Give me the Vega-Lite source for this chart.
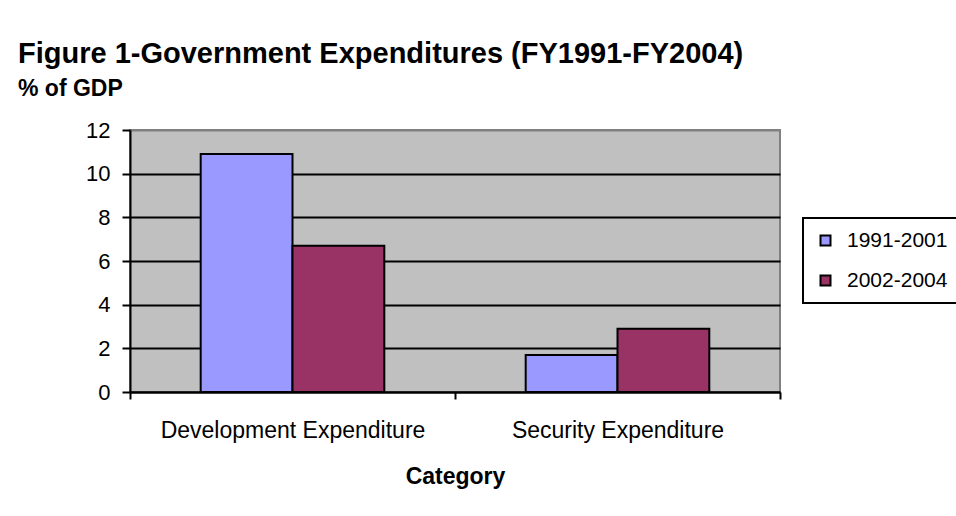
{
  "$schema": "https://vega.github.io/schema/vega-lite/v6.json",
  "autosize": {"type": "none"},
  "width": 650,
  "height": 262,
  "padding": {"left": 130, "top": 130, "right": 176, "bottom": 124},
  "background": "white",
  "title": {
    "text": "Figure 1-Government Expenditures (FY1991-FY2004)",
    "subtitle": "% of GDP",
    "anchor": "start",
    "frame": "group",
    "dx": -112,
    "offset": 18,
    "font": "Liberation Sans",
    "fontSize": 29,
    "fontWeight": "bold",
    "color": "black",
    "subtitleFont": "Liberation Sans",
    "subtitleFontSize": 23,
    "subtitleFontWeight": "bold",
    "subtitleColor": "black",
    "subtitlePadding": 9
  },
  "data": {
    "values": [
      {"category": "Development Expenditure", "period": "1991-2001", "value": 10.9},
      {"category": "Development Expenditure", "period": "2002-2004", "value": 6.7},
      {"category": "Security Expenditure", "period": "1991-2001", "value": 1.7},
      {"category": "Security Expenditure", "period": "2002-2004", "value": 2.9}
    ]
  },
  "mark": {"type": "bar", "stroke": "black", "strokeWidth": 2},
  "encoding": {
    "x": {
      "field": "category",
      "type": "nominal",
      "sort": ["Development Expenditure", "Security Expenditure"],
      "scale": {"paddingInner": 0, "paddingOuter": 0},
      "axis": {
        "title": "Category",
        "labelAngle": 0,
        "labelLimit": 0,
        "grid": false,
        "domainColor": "black",
        "domainWidth": 2,
        "tickColor": "black",
        "tickWidth": 2,
        "tickSize": 7,
        "tickBand": "extent",
        "labelFont": "Liberation Sans",
        "labelFontSize": 23,
        "labelColor": "black",
        "labelPadding": 20,
        "titleFont": "Liberation Sans",
        "titleFontSize": 23,
        "titleFontWeight": "bold",
        "titleColor": "black",
        "titlePadding": 23
      }
    },
    "xOffset": {
      "field": "period",
      "type": "nominal",
      "sort": ["1991-2001", "2002-2004"],
      "scale": {"paddingInner": 0, "paddingOuter": 0.77}
    },
    "y": {
      "field": "value",
      "type": "quantitative",
      "scale": {"domain": [0, 12], "nice": false},
      "axis": {
        "title": null,
        "values": [0, 2, 4, 6, 8, 10, 12],
        "grid": true,
        "gridColor": {"condition": {"test": "datum.value == 12", "value": "#808080"}, "value": "black"},
        "gridWidth": 2,
        "gridOpacity": 1,
        "domainColor": "black",
        "domainWidth": 2,
        "tickColor": "black",
        "tickWidth": 2,
        "tickSize": 8,
        "labelFont": "Liberation Sans",
        "labelFontSize": 22,
        "labelColor": "black",
        "labelPadding": 12
      }
    },
    "color": {
      "field": "period",
      "type": "nominal",
      "scale": {"domain": ["1991-2001", "2002-2004"], "range": ["#9999FF", "#993366"]},
      "legend": {
        "title": null,
        "orient": "none",
        "legendX": 673,
        "legendY": 88,
        "fillColor": "white",
        "strokeColor": "black",
        "padding": 12,
        "rowPadding": 18,
        "symbolType": "square",
        "symbolSize": 100,
        "symbolStrokeColor": "black",
        "symbolStrokeWidth": 2,
        "labelOffset": 11,
        "labelFont": "Liberation Sans",
        "labelFontSize": 21,
        "labelColor": "black",
        "encode": {"legend": {"update": {"strokeWidth": {"value": 2}}}}
      }
    }
  },
  "config": {
    "view": {"fill": "#C0C0C0", "stroke": "#808080", "strokeWidth": 2}
  }
}
